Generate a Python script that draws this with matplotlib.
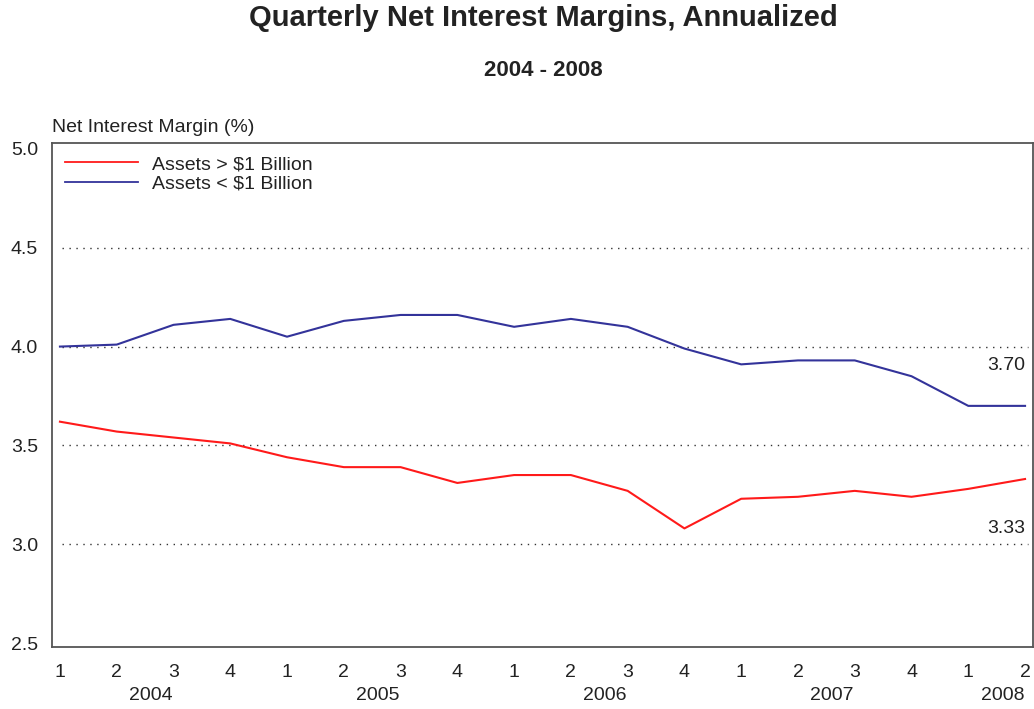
import matplotlib
matplotlib.use("Agg")
import matplotlib.pyplot as plt
import matplotlib.transforms as mtransforms

plt.rcParams['font.family'] = ['Liberation Sans', 'DejaVu Sans']

quarters = ["1", "2", "3", "4"] * 4 + ["1", "2"]
years = ["2004", "2005", "2006", "2007", "2008"]
year_pos = [1.6, 5.6, 9.6, 13.6, 16.6]
large_banks = [3.62, 3.57, 3.54, 3.51, 3.44, 3.39, 3.39, 3.31, 3.35, 3.35,
               3.27, 3.08, 3.23, 3.24, 3.27, 3.24, 3.28, 3.33]
small_banks = [4.00, 4.01, 4.11, 4.14, 4.05, 4.13, 4.16, 4.16, 4.10, 4.14,
               4.10, 3.99, 3.91, 3.93, 3.93, 3.85, 3.70, 3.70]
yticks = [2.5, 3.0, 3.5, 4.0, 4.5, 5.0]
grid_levels = [3.0, 3.5, 4.0, 4.5]

fig = plt.figure(figsize=(10.34, 7.09), dpi=100)
ax = fig.add_axes([52/1034, 62/709, 981/1034, 504/709])

x = list(range(len(quarters)))
red = "#ff1a1a"
blue = "#33339a"
ax.plot(x, large_banks, color=red, lw=1.5, label="Assets > $1 Billion", zorder=3)
ax.plot(x, small_banks, color=blue, lw=1.5, label="Assets < $1 Billion", zorder=3)

for g in grid_levels:
    ax.axhline(g, xmin=0.01, xmax=0.995, color="#333333", lw=1.0,
               linestyle=(0, (1, 4)), zorder=1)

ax.set_xlim(-0.14, 17.14)
ax.set_ylim(2.48, 5.03)
ax.set_yticks(yticks)
ax.set_yticklabels([f"{v:.1f}" for v in yticks])
ax.set_xticks(x)
ax.set_xticklabels(quarters)
ax.tick_params(axis="both", length=0, labelsize=14, colors="#222222")
ax.tick_params(axis="x", pad=12)
ax.tick_params(axis="y", pad=10)
for s in ax.spines.values():
    s.set_color("#555555")
    s.set_linewidth(1.3)

trans = mtransforms.blended_transform_factory(ax.transData, fig.transFigure)
for yr, p in zip(years, year_pos):
    ax.text(p, 1 - 695/709, yr, transform=trans, ha="center", va="center",
            fontsize=14, color="#222222")

ax.text(17.0, 3.905, f"{small_banks[-1]:.2f}", ha="right", va="center",
        fontsize=14, color="#222222")
ax.text(17.0, 3.08, f"{large_banks[-1]:.2f}", ha="right", va="center",
        fontsize=14, color="#222222")

leg = ax.legend(loc="upper left", bbox_to_anchor=(0.0, 1.0), frameon=False,
                fontsize=14, handlelength=3.75, handletextpad=0.72,
                labelspacing=0.1, borderaxespad=0.25)
for t in leg.get_texts():
    t.set_color("#222222")
for h in leg.get_lines():
    h.set_linewidth(1.3)

fig.text(543/1034, 1 - 18/709, "Quarterly Net Interest Margins, Annualized",
         ha="center", va="center", fontsize=21, fontweight="bold", color="#222222")
fig.text(543/1034, 1 - 70/709, "2004 - 2008", ha="center", va="center",
         fontsize=16, fontweight="bold", color="#222222")
fig.text(52/1034, 1 - 128/709, "Net Interest Margin (%)", ha="left", va="center",
         fontsize=14, color="#222222")

fig.savefig("out.png", dpi=100)
